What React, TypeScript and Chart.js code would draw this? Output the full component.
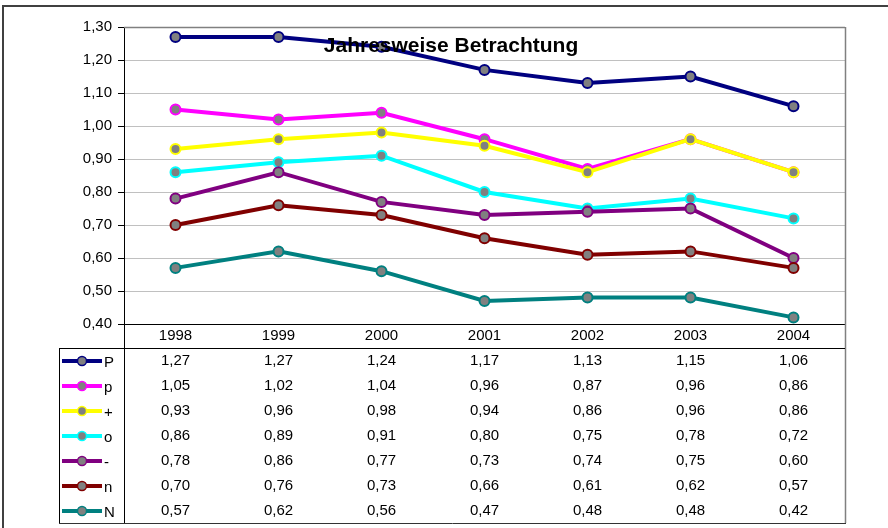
import React, { useEffect, useRef } from "react";
import { Chart, registerables } from "chart.js";

Chart.register(...registerables);

const years = ["1998", "1999", "2000", "2001", "2002", "2003", "2004"];
const seriesNames = ["P", "p", "+", "o", "-", "n", "N"];
const seriesColors = ["#000080", "#FF00FF", "#FFFF00", "#00FFFF", "#800080", "#800000", "#008080"];
const valP = [1.27, 1.27, 1.24, 1.17, 1.13, 1.15, 1.06];
const valp = [1.05, 1.02, 1.04, 0.96, 0.87, 0.96, 0.86];
const valPlus = [0.93, 0.96, 0.98, 0.94, 0.86, 0.96, 0.86];
const valo = [0.86, 0.89, 0.91, 0.8, 0.75, 0.78, 0.72];
const valMinus = [0.78, 0.86, 0.77, 0.73, 0.74, 0.75, 0.6];
const valn = [0.7, 0.76, 0.73, 0.66, 0.61, 0.62, 0.57];
const valN = [0.57, 0.62, 0.56, 0.47, 0.48, 0.48, 0.42];
const seriesValues = [valP, valp, valPlus, valo, valMinus, valn, valN];
const titleText = "Jahresweise Betrachtung";
const yMin = 0.4;
const yMax = 1.3;
const yStep = 0.1;

const FONT = '"Liberation Sans", Arial, sans-serif';
const fmt = (v: number) => v.toFixed(2).replace(".", ",");

const tablePlugin = {
  id: "excelTable",
  afterDatasetsDraw(chart: any) {
    const ctx = chart.ctx;
    ctx.save();
    ctx.fillStyle = "#000";
    ctx.font = `bold 21px ${FONT}`;
    ctx.textAlign = "center";
    ctx.textBaseline = "alphabetic";
    ctx.fillText(titleText, 451, 52);
    ctx.restore();
  },
  afterDraw(chart: any) {
    const ctx = chart.ctx;
    const area = chart.chartArea;
    const xs = chart.scales.x;
    const tableTop = 348;
    const rowH = 25;
    const tableBottom = tableTop + rowH * seriesNames.length;
    const legLeft = 59;
    ctx.save();
    // outer frame
    ctx.strokeStyle = "#404040";
    ctx.lineWidth = 2;
    ctx.beginPath();
    ctx.moveTo(3, 528);
    ctx.lineTo(3, 6);
    ctx.lineTo(888, 6);
    ctx.stroke();
    // plot right border
    ctx.strokeStyle = "#808080";
    ctx.lineWidth = 1.5;
    ctx.beginPath();
    ctx.moveTo(area.right + 0.5, area.top);
    ctx.lineTo(area.right + 0.5, tableBottom);
    ctx.stroke();
    ctx.beginPath();
    ctx.moveTo(area.left, area.top + 0.5);
    ctx.lineTo(area.right, area.top + 0.5);
    ctx.stroke();
    // table lines
    ctx.strokeStyle = "#000";
    ctx.lineWidth = 1;
    ctx.beginPath();
    ctx.moveTo(legLeft, tableTop + 0.5);
    ctx.lineTo(area.right, tableTop + 0.5);
    ctx.moveTo(area.left + 0.5, area.bottom);
    ctx.lineTo(area.left + 0.5, tableBottom);
    ctx.moveTo(legLeft + 0.5, tableTop);
    ctx.lineTo(legLeft + 0.5, tableBottom);
    ctx.stroke();
    ctx.strokeStyle = "#333";
    ctx.beginPath();
    ctx.moveTo(legLeft, tableBottom + 0.5);
    ctx.lineTo(area.right + 1, tableBottom + 0.5);
    ctx.stroke();
    // rows
    ctx.font = `15px ${FONT}`;
    ctx.textBaseline = "middle";
    seriesNames.forEach((name, i) => {
      const y = tableTop + 13 + i * rowH;
      ctx.fillStyle = "#000";
      ctx.textAlign = "center";
      seriesValues[i].forEach((v, j) => {
        ctx.fillText(fmt(v), xs.getPixelForValue(j), y);
      });
      // legend key
      ctx.strokeStyle = seriesColors[i];
      ctx.lineWidth = 4;
      ctx.beginPath();
      ctx.moveTo(62, y);
      ctx.lineTo(102, y);
      ctx.stroke();
      ctx.beginPath();
      ctx.arc(82, y, 4.5, 0, Math.PI * 2);
      ctx.fillStyle = "#808080";
      ctx.fill();
      ctx.lineWidth = 1.5;
      ctx.stroke();
      ctx.fillStyle = "#000";
      ctx.textAlign = "left";
      ctx.fillText(name, 104, y + 2);
    });
    ctx.restore();
  },
};

export default function App() {
  const ref = useRef<HTMLCanvasElement>(null);
  useEffect(() => {
    document.body.style.margin = "0";
    const canvas = ref.current!;
    const chart = new Chart(canvas, {
      type: "line",
      data: {
        labels: years,
        datasets: seriesNames.map((name, i) => ({
          label: name,
          data: seriesValues[i],
          borderColor: seriesColors[i],
          backgroundColor: seriesColors[i],
          borderWidth: 4,
          pointRadius: 5,
          pointBorderWidth: 2,
          pointBackgroundColor: "#808080",
          pointBorderColor: seriesColors[i],
          tension: 0,
          fill: false,
          order: seriesNames.length - i,
        })),
      },
      options: {
        responsive: false,
        animation: false,
        events: [],
        layout: { padding: { top: 27, right: 43, left: 0, bottom: 0 } },
        plugins: {
          legend: { display: false },
          title: { display: false },
          tooltip: { enabled: false },
        },
        scales: {
          x: {
            type: "category",
            offset: true,
            grid: { display: false, drawTicks: false },
            border: { display: true, color: "#000", width: 1 },
            ticks: { color: "#000", font: { family: FONT, size: 15 }, padding: 3, maxRotation: 0 },
            afterFit: (s: any) => {
              s.height = 204;
            },
          },
          y: {
            min: yMin,
            max: yMax,
            grid: { color: "#c0c0c0", tickColor: "#000", drawTicks: true, tickLength: 6 },
            border: { display: true, color: "#000", width: 1 },
            ticks: {
              stepSize: yStep,
              color: "#000",
              font: { family: FONT, size: 15 },
              padding: 6,
              callback: (v: any) => fmt(Number(v)),
            },
            afterFit: (s: any) => {
              s.width = 124;
            },
          },
        },
      },
      plugins: [tablePlugin],
    });
    return () => chart.destroy();
  }, []);
  return (
    <div style={{ width: 888, height: 528 }}>
      <canvas ref={ref} width={888} height={528} />
    </div>
  );
}
